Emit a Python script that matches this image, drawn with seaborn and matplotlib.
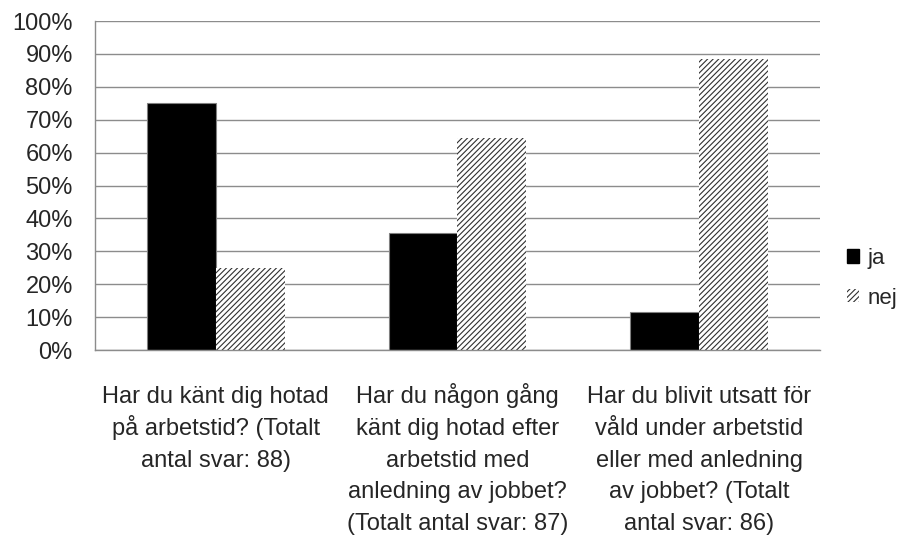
import matplotlib.pyplot as plt
import matplotlib.transforms as mtransforms
import pandas as pd
import seaborn as sns
from matplotlib.patches import Patch

# === Data ===
QUESTIONS = [
    "Har du känt dig hotad\npå arbetstid? (Totalt\nantal svar: 88)",
    "Har du någon gång\nkänt dig hotad efter\narbetstid med\nanledning av jobbet?\n(Totalt antal svar: 87)",
    "Har du blivit utsatt för\nvåld under arbetstid\neller med anledning\nav jobbet? (Totalt\nantal svar: 86)",
]
JA = [75.0, 35.6, 11.6]
NEJ = [25.0, 64.4, 88.4]
ANSWERS = ["ja", "nej"]
Y_TICKS = list(range(0, 101, 10))

TEXT_COLOR = "#262626"
GRID_COLOR = "#8c8c8c"

sns.set_style("white")
plt.rcParams["font.family"] = ["Liberation Sans", "DejaVu Sans"]
plt.rcParams["hatch.linewidth"] = 0.8

df = pd.DataFrame({
    "question": QUESTIONS * 2,
    "answer": ["ja"] * 3 + ["nej"] * 3,
    "percent": JA + NEJ,
})

fig = plt.figure(figsize=(9.19, 5.39), dpi=100)
ax = fig.add_axes([0.1034, 0.3506, 0.7888, 0.6104])

sns.barplot(
    data=df, x="question", y="percent", hue="answer", hue_order=ANSWERS,
    palette=["black", "white"], width=0.57, gap=0, ax=ax, legend=False,
)

# hatch the "nej" bars
for bar in ax.containers[1]:
    bar.set_hatch("//////")
    bar.set_edgecolor("#303030")
    bar.set_linewidth(0)
for bar in ax.containers[0]:
    bar.set_edgecolor("#808080")
    bar.set_linewidth(0.8)

ax.set_ylim(0, 100)
ax.set_xlim(-0.5, 2.5)
ax.set_yticks(Y_TICKS)
ax.set_yticklabels([f"{t}%" for t in Y_TICKS], fontsize=17, color=TEXT_COLOR)
ax.yaxis.grid(True, color=GRID_COLOR, linewidth=1)
ax.set_axisbelow(True)

# category labels: one text per line so every column shares the same baselines
ax.set_xticks(range(len(QUESTIONS)))
ax.set_xticklabels([""] * len(QUESTIONS))
ax.tick_params(axis="x", which="major", length=0)
for i, q in enumerate(QUESTIONS):
    for j, line in enumerate(q.split("\n")):
        tr = mtransforms.offset_copy(ax.get_xaxis_transform(), fig=fig,
                                     y=-(53 + 31.8 * j), units="dots")
        ax.text(i, 0, line, transform=tr, ha="center", va="baseline",
                fontsize=17, color=TEXT_COLOR)

ax.set_xticks([-0.5, 0.5, 1.5, 2.5], minor=True)
ax.tick_params(axis="x", which="minor", length=6, color=GRID_COLOR, width=1, direction="out")
ax.tick_params(axis="y", length=6, color=GRID_COLOR, width=1, direction="out", pad=10)
ax.set_xlabel("")
ax.set_ylabel("")

for side in ["top", "right"]:
    ax.spines[side].set_visible(False)
for side in ["left", "bottom"]:
    ax.spines[side].set_color(GRID_COLOR)
    ax.spines[side].set_linewidth(1)

handles = [
    Patch(facecolor="black", edgecolor="black", label="ja"),
    Patch(facecolor="white", edgecolor="#303030", hatch="//////", linewidth=0, label="nej"),
]
leg = fig.legend(
    handles=handles, loc="center left", bbox_to_anchor=(0.9, 0.484),
    frameon=False, fontsize=16, handlelength=0.55, handleheight=0.55,
    handletextpad=0.35, labelspacing=0.85,
)
for t in leg.get_texts():
    t.set_color(TEXT_COLOR)

fig.savefig("out.png", dpi=100)
